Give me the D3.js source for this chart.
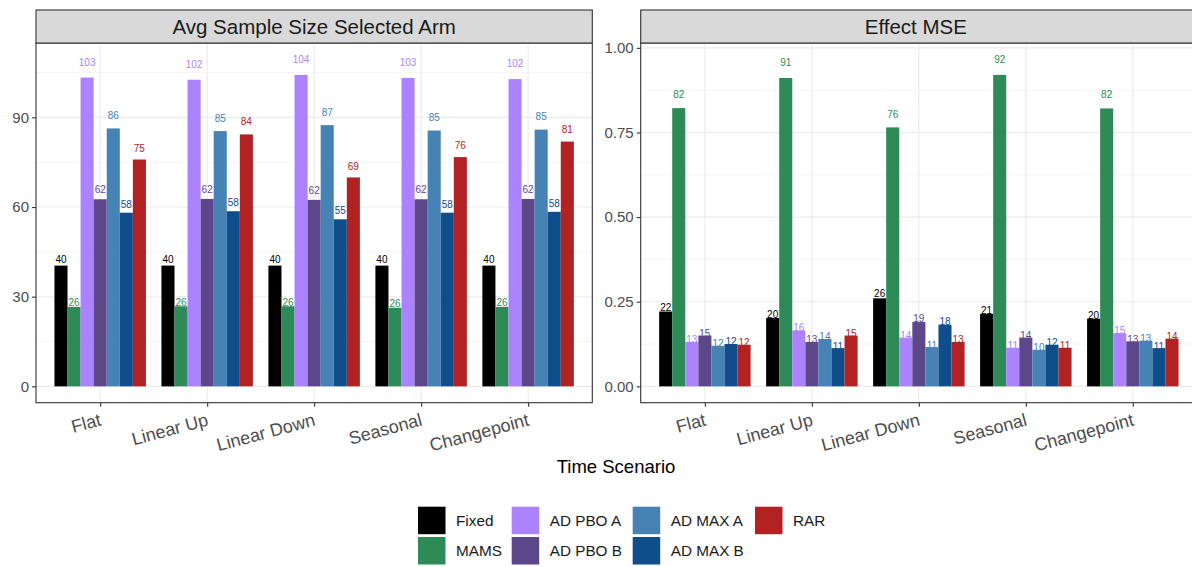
<!DOCTYPE html>
<html>
<head>
<meta charset="utf-8">
<script src="https://cdn.jsdelivr.net/npm/d3@7"></script>
<style>
  body { margin: 0; background: #fff; }
  text { font-family: "Liberation Sans", Arial, Helvetica, sans-serif; }
</style>
</head>
<body>
<svg id="chart" width="1192" height="567"></svg>
<script>
// scenarios on the x axis, one bar per design inside each scenario
const categories = ["Flat", "Linear Up", "Linear Down", "Seasonal", "Changepoint"];
const methods = ["Fixed", "MAMS", "AD PBO A", "AD PBO B", "AD MAX A", "AD MAX B", "RAR"];
const methodColors = ["#000000", "#2E8B57", "#AB82FF", "#5D478B", "#4682B4", "#104E8B", "#B22222"];

// rows follow categories, columns follow methods
const avgSampleSize = [
  [40.4, 26.6, 103.3, 62.6, 86.3, 58.1, 75.9],
  [40.4, 26.8, 102.6, 62.7, 85.4, 58.6, 84.3],
  [40.4, 26.8, 104.2, 62.4, 87.4, 55.9, 69.9],
  [40.4, 26.3, 103.2, 62.6, 85.6, 58.1, 76.7],
  [40.4, 26.6, 102.8, 62.7, 85.9, 58.4, 81.9]
];
const effectMSE = [
  [0.221, 0.822, 0.131, 0.150, 0.120, 0.125, 0.123],
  [0.202, 0.911, 0.165, 0.131, 0.140, 0.113, 0.150],
  [0.260, 0.765, 0.144, 0.190, 0.116, 0.182, 0.131],
  [0.214, 0.920, 0.114, 0.144, 0.108, 0.123, 0.114],
  [0.200, 0.821, 0.157, 0.133, 0.135, 0.113, 0.141]
];

const sampleTicks = [0, 30, 60, 90];
const sampleMinor = [15, 45, 75, 105];
const mseTicks = [0, 0.25, 0.5, 0.75, 1];
const mseMinor = [0.125, 0.375, 0.625, 0.875];

const svg = d3.select("#chart");
const plotTop = 43, plotBottom = 402.7, stripTop = 10;
const grid = "#EBEBEB", dark = "#333333";

const panels = [
  { title: "Avg Sample Size Selected Arm", values: avgSampleSize, ticks: sampleTicks, minor: sampleMinor,
    fmt: d => d, label: v => Math.floor(v + 1e-9), x0: 36, x1: 592.3 },
  { title: "Effect MSE", values: effectMSE, ticks: mseTicks, minor: mseMinor,
    fmt: d3.format(".2f"), label: v => Math.floor(v * 100 + 1e-9), x0: 640.7, x1: 1197 }
];

panels.forEach(p => {
  const top = d3.max(p.values.flat()) * 1.05;
  const pad = top * 0.05;
  const y = d3.scaleLinear().domain([-pad, top + pad]).range([plotBottom, plotTop]);
  const x = d3.scalePoint().domain(categories).range([p.x0, p.x1]).padding(0.6);
  const groupW = x.step() * 0.855;
  const inner = d3.scaleBand().domain(methods).range([-groupW / 2, groupW / 2]);

  const g = svg.append("g");

  // gridlines
  g.selectAll(".minor").data(p.minor).join("line")
    .attr("x1", p.x0).attr("x2", p.x1)
    .attr("y1", d => y(d)).attr("y2", d => y(d))
    .attr("stroke", grid).attr("stroke-width", 0.55);
  g.selectAll(".major").data(p.ticks).join("line")
    .attr("x1", p.x0).attr("x2", p.x1)
    .attr("y1", d => y(d)).attr("y2", d => y(d))
    .attr("stroke", grid).attr("stroke-width", 1.1);
  g.selectAll(".vgrid").data(categories).join("line")
    .attr("x1", d => x(d)).attr("x2", d => x(d))
    .attr("y1", plotTop).attr("y2", plotBottom)
    .attr("stroke", grid).attr("stroke-width", 1.1);

  // bars + value labels
  const cells = [];
  p.values.forEach((row, i) => row.forEach((v, j) => cells.push({ cat: categories[i], m: j, v })));

  g.selectAll(".bar").data(cells).join("rect")
    .attr("x", d => x(d.cat) + inner(methods[d.m]))
    .attr("width", inner.bandwidth())
    .attr("y", d => y(d.v))
    .attr("height", d => y(0) - y(d.v))
    .attr("fill", d => methodColors[d.m]);

  g.selectAll(".lab").data(cells).join("text")
    .attr("x", d => x(d.cat) + inner(methods[d.m]) + inner.bandwidth() / 2)
    .attr("y", d => y(d.v * 1.05))
    .attr("dy", "0.35em")
    .attr("text-anchor", "middle")
    .attr("font-size", 10)
    .attr("fill", d => methodColors[d.m])
    .text(d => p.label(d.v));

  // panel border
  g.append("rect")
    .attr("x", p.x0).attr("y", plotTop)
    .attr("width", p.x1 - p.x0).attr("height", plotBottom - plotTop)
    .attr("fill", "none").attr("stroke", dark).attr("stroke-width", 1.1);

  // strip
  g.append("rect")
    .attr("x", p.x0).attr("y", stripTop)
    .attr("width", p.x1 - p.x0).attr("height", plotTop - stripTop)
    .attr("fill", "#D9D9D9").attr("stroke", dark).attr("stroke-width", 1.1);
  g.append("text")
    .attr("x", (p.x0 + p.x1) / 2 - (p.x1 > 1192 ? 3 : 0))
    .attr("y", (stripTop + plotTop) / 2)
    .attr("dy", "0.35em")
    .attr("text-anchor", "middle")
    .attr("font-size", 20.5)
    .attr("fill", "#1A1A1A")
    .text(p.title);

  // y axis
  const yAxis = d3.axisLeft(y).tickValues(p.ticks).tickFormat(p.fmt).tickSize(4).tickPadding(3);
  const ya = g.append("g").attr("transform", `translate(${p.x0},0)`).call(yAxis);
  ya.select(".domain").remove();
  ya.selectAll("line").attr("stroke", dark).attr("stroke-width", 1.1);
  ya.selectAll("text").attr("font-size", 15).attr("fill", "#4D4D4D")
    .attr("font-family", "Liberation Sans, Arial, sans-serif");

  // x axis
  const xAxis = d3.axisBottom(x).tickSize(4).tickFormat("");
  const xa = g.append("g").attr("transform", `translate(0,${plotBottom})`).call(xAxis);
  xa.select(".domain").remove();
  xa.selectAll("line").attr("stroke", dark).attr("stroke-width", 1.1);
  g.selectAll(".xlab").data(categories).join("text")
    .attr("transform", d => `translate(${x(d) + 2},${plotBottom + 22.5}) rotate(-15)`)
    .attr("text-anchor", "end")
    .attr("font-size", 18)
    .attr("fill", "#4D4D4D")
    .text(d => d);
});

svg.append("text")
  .attr("x", 616).attr("y", 473)
  .attr("text-anchor", "middle")
  .attr("font-size", 18.5)
  .attr("fill", "#000")
  .text("Time Scenario");

// legend, filled column by column
const legendCols = [418, 511.7, 632.7, 755];
const legendRows = [506.7, 537];
const keySize = 27.5;
const legend = svg.append("g");
methods.forEach((m, i) => {
  const cx = legendCols[Math.floor(i / 2)], cy = legendRows[i % 2];
  legend.append("rect")
    .attr("x", cx).attr("y", cy)
    .attr("width", keySize).attr("height", keySize)
    .attr("fill", methodColors[i]);
  legend.append("text")
    .attr("x", cx + 38).attr("y", cy + keySize / 2)
    .attr("dy", "0.35em")
    .attr("font-size", 15.3)
    .attr("fill", "#1A1A1A")
    .text(m);
});
</script>
</body>
</html>
